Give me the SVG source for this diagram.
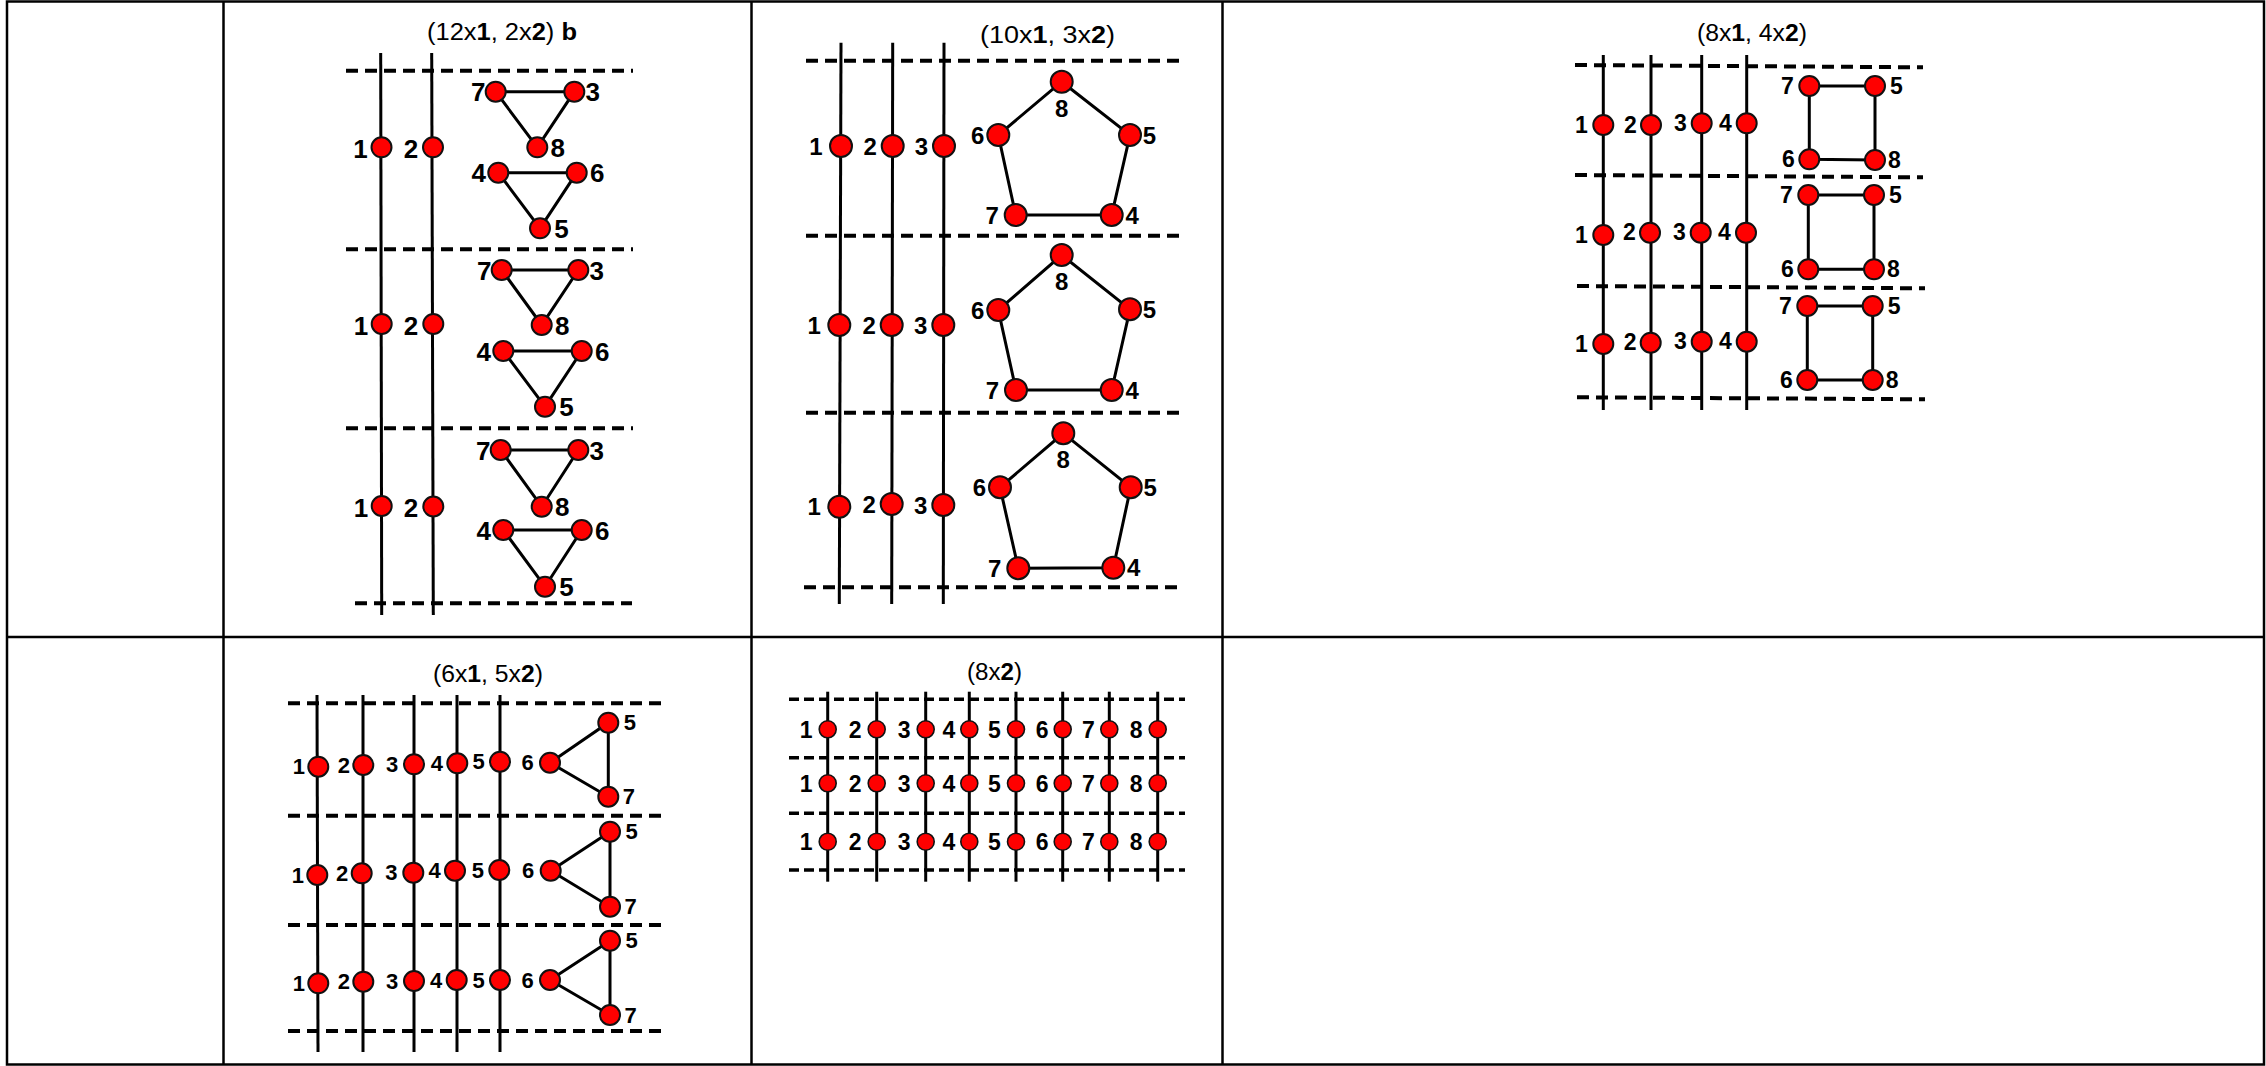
<svg xmlns="http://www.w3.org/2000/svg" width="2266" height="1066" viewBox="0 0 2266 1066">
<style>
.grid{stroke:#000;stroke-width:2.5;fill:none}
.vl{stroke:#000;stroke-width:3;fill:none}
.dl{stroke:#000;stroke-width:4;stroke-dasharray:12 7;fill:none}
.dl5{stroke:#000;stroke-width:3.6;stroke-dasharray:10 5;fill:none}
.e{stroke:#000;stroke-width:3;fill:none}
circle{fill:#f00;stroke:#111;stroke-width:2}
.s circle{stroke-width:1.6}
text{font-family:"Liberation Sans",Arial,Helvetica,sans-serif;fill:#000}
.lb{font-weight:bold;text-anchor:middle}
.l1{font-size:26px}.l2{font-size:24px}.l3{font-size:23px}.l4{font-size:22px}.l5{font-size:23px}
.tt{font-size:23px}
.b{font-weight:bold}
</style>
<rect width="2266" height="1066" fill="#fff"/>
<g id="table">
<rect class="grid" x="7" y="1.5" width="2257" height="1063"/>
<line class="grid" x1="223.5" y1="1.5" x2="223.5" y2="1064.5"/>
<line class="grid" x1="751.5" y1="1.5" x2="751.5" y2="1064.5"/>
<line class="grid" x1="1222.5" y1="1.5" x2="1222.5" y2="1064.5"/>
<line class="grid" x1="7" y1="637" x2="2264" y2="637"/>
</g>
<g id="titles">
<text class="tt" x="427" y="40" textLength="150" lengthAdjust="spacingAndGlyphs">(12x<tspan class="b">1</tspan>, 2x<tspan class="b">2</tspan>) <tspan class="b">b</tspan></text>
<text class="tt" x="980" y="43" textLength="135" lengthAdjust="spacingAndGlyphs">(10x<tspan class="b">1</tspan>, 3x<tspan class="b">2</tspan>)</text>
<text class="tt" x="1697" y="41" textLength="110" lengthAdjust="spacingAndGlyphs">(8x<tspan class="b">1</tspan>, 4x<tspan class="b">2</tspan>)</text>
<text class="tt" x="433" y="682" textLength="110" lengthAdjust="spacingAndGlyphs">(6x<tspan class="b">1</tspan>, 5x<tspan class="b">2</tspan>)</text>
<text class="tt" x="967" y="680" textLength="55" lengthAdjust="spacingAndGlyphs">(8x<tspan class="b">2</tspan>)</text>
</g>
<g id="connectors">
<line class="vl" x1="380.7" y1="53" x2="381.7" y2="615"/>
<line class="vl" x1="431.7" y1="53" x2="433.3" y2="615"/>
<line class="dl" x1="346" y1="70.7" x2="633" y2="70.7"/>
<line class="dl" x1="346" y1="249.3" x2="633" y2="249.3"/>
<line class="dl" x1="346" y1="428.3" x2="633" y2="428.3"/>
<line class="dl" x1="355" y1="603.3" x2="632" y2="603.3"/>
<polygon class="e" points="495.7,91.7 574.3,91.7 537.3,147.3"/>
<polygon class="e" points="498.3,172.7 576.7,172.7 540,228.3"/>
<polygon class="e" points="501.7,270 578.3,270 541.7,325"/>
<polygon class="e" points="503.3,351 581.7,351 545,406.7"/>
<polygon class="e" points="500.7,450 578.3,450 541.7,506.7"/>
<polygon class="e" points="503.3,530 581.7,530 545,586.7"/>
<line class="vl" x1="841" y1="42.7" x2="839.3" y2="604"/>
<line class="vl" x1="892.7" y1="42.7" x2="891.7" y2="604"/>
<line class="vl" x1="944" y1="42.7" x2="943.3" y2="604"/>
<line class="dl" x1="806" y1="60.7" x2="1182" y2="60.7"/>
<line class="dl" x1="806" y1="235.7" x2="1182" y2="235.7"/>
<line class="dl" x1="806" y1="412.7" x2="1182" y2="412.7"/>
<line class="dl" x1="804" y1="587.3" x2="1182" y2="587.3"/>
<polygon class="e" points="1061.7,81.7 1130,135 1111.7,215 1015.7,215 998.3,135"/>
<polygon class="e" points="1061.7,255 1130,309.3 1111.7,390 1016,390 998.3,310"/>
<polygon class="e" points="1063.3,433.3 1130.7,487.3 1113.3,567.7 1018.3,568.3 1000,487.3"/>
<line class="vl" x1="1603.3" y1="55" x2="1603.3" y2="410"/>
<line class="vl" x1="1651" y1="55" x2="1651" y2="410"/>
<line class="vl" x1="1701.7" y1="55" x2="1701.7" y2="410"/>
<line class="vl" x1="1746.7" y1="55" x2="1746.7" y2="410"/>
<line class="dl" x1="1575" y1="65" x2="1923" y2="67.3"/>
<line class="dl" x1="1575" y1="175" x2="1923" y2="177.3"/>
<line class="dl" x1="1577" y1="286" x2="1925" y2="288.3"/>
<line class="dl" x1="1577" y1="397.3" x2="1925" y2="399.3"/>
<polygon class="e" points="1809.3,86 1875,86 1875,160 1809.3,159.3"/>
<polygon class="e" points="1808.3,195 1874,195 1874,269.3 1808.3,269.3"/>
<polygon class="e" points="1807.3,306 1872.7,306 1872.7,380 1807.3,380"/>
<line class="vl" x1="317" y1="695" x2="318" y2="1052"/>
<line class="vl" x1="363" y1="695" x2="363" y2="1052"/>
<line class="vl" x1="414" y1="695" x2="414" y2="1052"/>
<line class="vl" x1="457" y1="695" x2="457" y2="1052"/>
<line class="vl" x1="500" y1="695" x2="500" y2="1052"/>
<line class="dl" x1="288" y1="703.3" x2="665" y2="703.3"/>
<line class="dl" x1="288" y1="815.7" x2="665" y2="815.7"/>
<line class="dl" x1="288" y1="925" x2="665" y2="925"/>
<line class="dl" x1="288" y1="1031" x2="665" y2="1031"/>
<polygon class="e" points="550,762.7 608.3,722.7 608.3,796.7"/>
<polygon class="e" points="550.7,870.7 610,831.7 610,906.7"/>
<polygon class="e" points="550,980 610,940.7 610,1015"/>
<line class="vl" x1="827.7" y1="691.7" x2="827.7" y2="881.7"/>
<line class="vl" x1="876.7" y1="691.7" x2="876.7" y2="881.7"/>
<line class="vl" x1="925.7" y1="691.7" x2="925.7" y2="881.7"/>
<line class="vl" x1="969.3" y1="691.7" x2="969.3" y2="881.7"/>
<line class="vl" x1="1016" y1="691.7" x2="1016" y2="881.7"/>
<line class="vl" x1="1062.7" y1="691.7" x2="1062.7" y2="881.7"/>
<line class="vl" x1="1109.3" y1="691.7" x2="1109.3" y2="881.7"/>
<line class="vl" x1="1157.7" y1="691.7" x2="1157.7" y2="881.7"/>
<line class="dl5" x1="789" y1="699.3" x2="1185" y2="699.3"/>
<line class="dl5" x1="789" y1="757.7" x2="1185" y2="757.7"/>
<line class="dl5" x1="789" y1="813.3" x2="1185" y2="813.3"/>
<line class="dl5" x1="789" y1="870" x2="1185" y2="870"/>
</g>
<g id="panel1-nodes">
<g id="p1-b1-n1"><circle cx="381.5" cy="147.3" r="10"/><text class="lb l1" x="360.5" y="157.5">1</text></g>
<g id="p1-b1-n2"><circle cx="433" cy="147.3" r="10"/><text class="lb l1" x="411" y="157.5">2</text></g>
<g id="p1-b2-n1"><circle cx="381.7" cy="324" r="10"/><text class="lb l1" x="361" y="334.5">1</text></g>
<g id="p1-b2-n2"><circle cx="433.3" cy="324" r="10"/><text class="lb l1" x="411" y="334.5">2</text></g>
<g id="p1-b3-n1"><circle cx="381.7" cy="506" r="10"/><text class="lb l1" x="361" y="516.5">1</text></g>
<g id="p1-b3-n2"><circle cx="433.3" cy="506.5" r="10"/><text class="lb l1" x="411" y="516.5">2</text></g>
<g id="p1-b1-n7"><circle cx="495.7" cy="91.7" r="10"/><text class="lb l1" x="478.2" y="101.2">7</text></g>
<g id="p1-b1-n3"><circle cx="574.3" cy="91.7" r="10"/><text class="lb l1" x="592.8" y="101.2">3</text></g>
<g id="p1-b1-n8"><circle cx="537.3" cy="147.3" r="10"/><text class="lb l1" x="557.8" y="156.8">8</text></g>
<g id="p1-b1-n4"><circle cx="498.3" cy="172.7" r="10"/><text class="lb l1" x="478.8" y="182.2">4</text></g>
<g id="p1-b1-n6"><circle cx="576.7" cy="172.7" r="10"/><text class="lb l1" x="597.2" y="182.2">6</text></g>
<g id="p1-b1-n5"><circle cx="540" cy="228.3" r="10"/><text class="lb l1" x="561.5" y="237.8">5</text></g>
<g id="p1-b2-n7"><circle cx="501.7" cy="270" r="10"/><text class="lb l1" x="484.2" y="279.5">7</text></g>
<g id="p1-b2-n3"><circle cx="578.3" cy="270" r="10"/><text class="lb l1" x="596.8" y="279.5">3</text></g>
<g id="p1-b2-n8"><circle cx="541.7" cy="325" r="10"/><text class="lb l1" x="562.2" y="334.5">8</text></g>
<g id="p1-b2-n4"><circle cx="503.3" cy="351" r="10"/><text class="lb l1" x="483.8" y="360.5">4</text></g>
<g id="p1-b2-n6"><circle cx="581.7" cy="351" r="10"/><text class="lb l1" x="602.2" y="360.5">6</text></g>
<g id="p1-b2-n5"><circle cx="545" cy="406.7" r="10"/><text class="lb l1" x="566.5" y="416.2">5</text></g>
<g id="p1-b3-n7"><circle cx="500.7" cy="450" r="10"/><text class="lb l1" x="483.2" y="459.5">7</text></g>
<g id="p1-b3-n3"><circle cx="578.3" cy="450" r="10"/><text class="lb l1" x="596.8" y="459.5">3</text></g>
<g id="p1-b3-n8"><circle cx="541.7" cy="506.7" r="10"/><text class="lb l1" x="562.2" y="516.2">8</text></g>
<g id="p1-b3-n4"><circle cx="503.3" cy="530" r="10"/><text class="lb l1" x="483.8" y="539.5">4</text></g>
<g id="p1-b3-n6"><circle cx="581.7" cy="530" r="10"/><text class="lb l1" x="602.2" y="539.5">6</text></g>
<g id="p1-b3-n5"><circle cx="545" cy="586.7" r="10"/><text class="lb l1" x="566.5" y="596.2">5</text></g>
</g>
<g id="panel2-nodes">
<g id="p2-b1-n1"><circle cx="841" cy="146" r="11"/><text class="lb l2" x="816" y="154.7">1</text></g>
<g id="p2-b1-n2"><circle cx="892.7" cy="146" r="11"/><text class="lb l2" x="870.2" y="154.7">2</text></g>
<g id="p2-b1-n3"><circle cx="944" cy="146" r="11"/><text class="lb l2" x="921.5" y="154.7">3</text></g>
<g id="p2-b2-n1"><circle cx="839.3" cy="325" r="11"/><text class="lb l2" x="814.3" y="333.7">1</text></g>
<g id="p2-b2-n2"><circle cx="891.7" cy="325" r="11"/><text class="lb l2" x="869.2" y="333.7">2</text></g>
<g id="p2-b2-n3"><circle cx="943.3" cy="325" r="11"/><text class="lb l2" x="920.8" y="333.7">3</text></g>
<g id="p2-b3-n1"><circle cx="839.3" cy="506.7" r="11"/><text class="lb l2" x="814.3" y="515.4">1</text></g>
<g id="p2-b3-n2"><circle cx="891.7" cy="504" r="11"/><text class="lb l2" x="869.2" y="512.7">2</text></g>
<g id="p2-b3-n3"><circle cx="943.3" cy="505" r="11"/><text class="lb l2" x="920.8" y="513.7">3</text></g>
<g id="p2-b1-n8"><circle cx="1061.7" cy="81.7" r="11"/><text class="lb l2" x="1061.7" y="116.7">8</text></g>
<g id="p2-b1-n5"><circle cx="1130" cy="135" r="11"/><text class="lb l2" x="1149.5" y="143.7">5</text></g>
<g id="p2-b1-n4"><circle cx="1111.7" cy="215" r="11"/><text class="lb l2" x="1132.2" y="223.7">4</text></g>
<g id="p2-b1-n7"><circle cx="1015.7" cy="215" r="11"/><text class="lb l2" x="992.2" y="223.7">7</text></g>
<g id="p2-b1-n6"><circle cx="998.3" cy="135" r="11"/><text class="lb l2" x="977.8" y="143.7">6</text></g>
<g id="p2-b2-n8"><circle cx="1061.7" cy="255" r="11"/><text class="lb l2" x="1061.7" y="290.2">8</text></g>
<g id="p2-b2-n5"><circle cx="1130" cy="309.3" r="11"/><text class="lb l2" x="1149.5" y="318">5</text></g>
<g id="p2-b2-n4"><circle cx="1111.7" cy="390" r="11"/><text class="lb l2" x="1132.2" y="398.7">4</text></g>
<g id="p2-b2-n7"><circle cx="1016" cy="390" r="11"/><text class="lb l2" x="992.5" y="398.7">7</text></g>
<g id="p2-b2-n6"><circle cx="998.3" cy="310" r="11"/><text class="lb l2" x="977.8" y="318.7">6</text></g>
<g id="p2-b3-n8"><circle cx="1063.3" cy="433.3" r="11"/><text class="lb l2" x="1063.3" y="468.2">8</text></g>
<g id="p2-b3-n5"><circle cx="1130.7" cy="487.3" r="11"/><text class="lb l2" x="1150.2" y="496">5</text></g>
<g id="p2-b3-n4"><circle cx="1113.3" cy="567.7" r="11"/><text class="lb l2" x="1133.8" y="576.4">4</text></g>
<g id="p2-b3-n7"><circle cx="1018.3" cy="568.3" r="11"/><text class="lb l2" x="994.8" y="577">7</text></g>
<g id="p2-b3-n6"><circle cx="1000" cy="487.3" r="11"/><text class="lb l2" x="979.5" y="496">6</text></g>
</g>
<g id="panel3-nodes">
<g id="p3-b1-n1"><circle cx="1603.3" cy="125" r="10"/><text class="lb l3" x="1581.5" y="132.7">1</text></g>
<g id="p3-b1-n2"><circle cx="1651" cy="125" r="10"/><text class="lb l3" x="1630.5" y="132.7">2</text></g>
<g id="p3-b1-n3"><circle cx="1701.7" cy="123.3" r="10"/><text class="lb l3" x="1680.5" y="131">3</text></g>
<g id="p3-b1-n4"><circle cx="1746.7" cy="123.3" r="10"/><text class="lb l3" x="1725.5" y="131">4</text></g>
<g id="p3-b2-n1"><circle cx="1603.3" cy="235" r="10"/><text class="lb l3" x="1581.5" y="242.7">1</text></g>
<g id="p3-b2-n2"><circle cx="1650" cy="232.7" r="10"/><text class="lb l3" x="1629.5" y="240.4">2</text></g>
<g id="p3-b2-n3"><circle cx="1700.7" cy="232.7" r="10"/><text class="lb l3" x="1679.5" y="240.4">3</text></g>
<g id="p3-b2-n4"><circle cx="1746" cy="232.7" r="10"/><text class="lb l3" x="1724.5" y="240.4">4</text></g>
<g id="p3-b3-n1"><circle cx="1603.3" cy="344" r="10"/><text class="lb l3" x="1581.5" y="351.7">1</text></g>
<g id="p3-b3-n2"><circle cx="1650.7" cy="342.7" r="10"/><text class="lb l3" x="1630.2" y="350.4">2</text></g>
<g id="p3-b3-n3"><circle cx="1701.7" cy="341.7" r="10"/><text class="lb l3" x="1680.5" y="349.4">3</text></g>
<g id="p3-b3-n4"><circle cx="1746.7" cy="341.7" r="10"/><text class="lb l3" x="1725.5" y="349.4">4</text></g>
<g id="p3-b1-n7"><circle cx="1809.3" cy="86" r="10"/><text class="lb l3" x="1787.5" y="93.7">7</text></g>
<g id="p3-b1-n5"><circle cx="1875" cy="86" r="10"/><text class="lb l3" x="1896.5" y="93.7">5</text></g>
<g id="p3-b1-n6"><circle cx="1809.3" cy="159.3" r="10"/><text class="lb l3" x="1788.5" y="167">6</text></g>
<g id="p3-b1-n8"><circle cx="1875" cy="160" r="10"/><text class="lb l3" x="1894.5" y="167.7">8</text></g>
<g id="p3-b2-n7"><circle cx="1808.3" cy="195" r="10"/><text class="lb l3" x="1786.5" y="202.7">7</text></g>
<g id="p3-b2-n5"><circle cx="1874" cy="195" r="10"/><text class="lb l3" x="1895.5" y="202.7">5</text></g>
<g id="p3-b2-n6"><circle cx="1808.3" cy="269.3" r="10"/><text class="lb l3" x="1787.5" y="277">6</text></g>
<g id="p3-b2-n8"><circle cx="1874" cy="269.3" r="10"/><text class="lb l3" x="1893.5" y="277">8</text></g>
<g id="p3-b3-n7"><circle cx="1807.3" cy="306" r="10"/><text class="lb l3" x="1785.5" y="313.7">7</text></g>
<g id="p3-b3-n5"><circle cx="1872.7" cy="306" r="10"/><text class="lb l3" x="1894.2" y="313.7">5</text></g>
<g id="p3-b3-n6"><circle cx="1807.3" cy="380" r="10"/><text class="lb l3" x="1786.5" y="387.7">6</text></g>
<g id="p3-b3-n8"><circle cx="1872.7" cy="380" r="10"/><text class="lb l3" x="1892.2" y="387.7">8</text></g>
</g>
<g id="panel4-nodes">
<g id="p4-b1-n1"><circle cx="318.3" cy="766.7" r="10"/><text class="lb l4" x="298.8" y="774.4">1</text></g>
<g id="p4-b1-n2"><circle cx="363.3" cy="765" r="10"/><text class="lb l4" x="343.8" y="772.7">2</text></g>
<g id="p4-b1-n3"><circle cx="414" cy="764.3" r="10"/><text class="lb l4" x="392" y="772">3</text></g>
<g id="p4-b1-n4"><circle cx="457.3" cy="763.3" r="10"/><text class="lb l4" x="436.8" y="771">4</text></g>
<g id="p4-b1-n5"><circle cx="500" cy="761.7" r="10"/><text class="lb l4" x="478.5" y="769.4">5</text></g>
<g id="p4-b2-n1"><circle cx="317.3" cy="875" r="10"/><text class="lb l4" x="297.8" y="882.7">1</text></g>
<g id="p4-b2-n2"><circle cx="361.7" cy="873.3" r="10"/><text class="lb l4" x="342.2" y="881">2</text></g>
<g id="p4-b2-n3"><circle cx="413.3" cy="872.7" r="10"/><text class="lb l4" x="391.3" y="880.4">3</text></g>
<g id="p4-b2-n4"><circle cx="455" cy="870.7" r="10"/><text class="lb l4" x="434.5" y="878.4">4</text></g>
<g id="p4-b2-n5"><circle cx="499.3" cy="870" r="10"/><text class="lb l4" x="477.8" y="877.7">5</text></g>
<g id="p4-b3-n1"><circle cx="318.3" cy="983.3" r="10"/><text class="lb l4" x="298.8" y="991">1</text></g>
<g id="p4-b3-n2"><circle cx="363.3" cy="981.7" r="10"/><text class="lb l4" x="343.8" y="989.4">2</text></g>
<g id="p4-b3-n3"><circle cx="414" cy="981" r="10"/><text class="lb l4" x="392" y="988.7">3</text></g>
<g id="p4-b3-n4"><circle cx="456.7" cy="980" r="10"/><text class="lb l4" x="436.2" y="987.7">4</text></g>
<g id="p4-b3-n5"><circle cx="500" cy="980" r="10"/><text class="lb l4" x="478.5" y="987.7">5</text></g>
<g id="p4-b1-n6"><circle cx="550" cy="762.7" r="10"/><text class="lb l4" x="527.5" y="770.4">6</text></g>
<g id="p4-b1-t5"><circle cx="608.3" cy="722.7" r="10"/><text class="lb l4" x="629.8" y="730.4">5</text></g>
<g id="p4-b1-n7"><circle cx="608.3" cy="796.7" r="10"/><text class="lb l4" x="628.8" y="804.4">7</text></g>
<g id="p4-b2-n6"><circle cx="550.7" cy="870.7" r="10"/><text class="lb l4" x="528.2" y="878.4">6</text></g>
<g id="p4-b2-t5"><circle cx="610" cy="831.7" r="10"/><text class="lb l4" x="631.5" y="839.4">5</text></g>
<g id="p4-b2-n7"><circle cx="610" cy="906.7" r="10"/><text class="lb l4" x="630.5" y="914.4">7</text></g>
<g id="p4-b3-n6"><circle cx="550" cy="980" r="10"/><text class="lb l4" x="527.5" y="987.7">6</text></g>
<g id="p4-b3-t5"><circle cx="610" cy="940.7" r="10"/><text class="lb l4" x="631.5" y="948.4">5</text></g>
<g id="p4-b3-n7"><circle cx="610" cy="1015" r="10"/><text class="lb l4" x="630.5" y="1022.7">7</text></g>
</g>
<g id="panel5-nodes" class="s">
<g id="p5-r1-n1"><circle cx="827.7" cy="729.3" r="8.5"/><text class="lb l5" x="806.2" y="737.5">1</text></g>
<g id="p5-r1-n2"><circle cx="876.7" cy="729.3" r="8.5"/><text class="lb l5" x="855.2" y="737.5">2</text></g>
<g id="p5-r1-n3"><circle cx="925.7" cy="729.3" r="8.5"/><text class="lb l5" x="904.2" y="737.5">3</text></g>
<g id="p5-r1-n4"><circle cx="969.3" cy="729.3" r="8.5"/><text class="lb l5" x="948.8" y="737.5">4</text></g>
<g id="p5-r1-n5"><circle cx="1016" cy="729.3" r="8.5"/><text class="lb l5" x="994.5" y="737.5">5</text></g>
<g id="p5-r1-n6"><circle cx="1062.7" cy="729.3" r="8.5"/><text class="lb l5" x="1042.2" y="737.5">6</text></g>
<g id="p5-r1-n7"><circle cx="1109.3" cy="729.3" r="8.5"/><text class="lb l5" x="1088.3" y="737.5">7</text></g>
<g id="p5-r1-n8"><circle cx="1157.7" cy="729.3" r="8.5"/><text class="lb l5" x="1136.2" y="737.5">8</text></g>
<g id="p5-r2-n1"><circle cx="827.7" cy="783.3" r="8.5"/><text class="lb l5" x="806.2" y="791.5">1</text></g>
<g id="p5-r2-n2"><circle cx="876.7" cy="783.3" r="8.5"/><text class="lb l5" x="855.2" y="791.5">2</text></g>
<g id="p5-r2-n3"><circle cx="925.7" cy="783.3" r="8.5"/><text class="lb l5" x="904.2" y="791.5">3</text></g>
<g id="p5-r2-n4"><circle cx="969.3" cy="783.3" r="8.5"/><text class="lb l5" x="948.8" y="791.5">4</text></g>
<g id="p5-r2-n5"><circle cx="1016" cy="783.3" r="8.5"/><text class="lb l5" x="994.5" y="791.5">5</text></g>
<g id="p5-r2-n6"><circle cx="1062.7" cy="783.3" r="8.5"/><text class="lb l5" x="1042.2" y="791.5">6</text></g>
<g id="p5-r2-n7"><circle cx="1109.3" cy="783.3" r="8.5"/><text class="lb l5" x="1088.3" y="791.5">7</text></g>
<g id="p5-r2-n8"><circle cx="1157.7" cy="783.3" r="8.5"/><text class="lb l5" x="1136.2" y="791.5">8</text></g>
<g id="p5-r3-n1"><circle cx="827.7" cy="841.7" r="8.5"/><text class="lb l5" x="806.2" y="849.9">1</text></g>
<g id="p5-r3-n2"><circle cx="876.7" cy="841.7" r="8.5"/><text class="lb l5" x="855.2" y="849.9">2</text></g>
<g id="p5-r3-n3"><circle cx="925.7" cy="841.7" r="8.5"/><text class="lb l5" x="904.2" y="849.9">3</text></g>
<g id="p5-r3-n4"><circle cx="969.3" cy="841.7" r="8.5"/><text class="lb l5" x="948.8" y="849.9">4</text></g>
<g id="p5-r3-n5"><circle cx="1016" cy="841.7" r="8.5"/><text class="lb l5" x="994.5" y="849.9">5</text></g>
<g id="p5-r3-n6"><circle cx="1062.7" cy="841.7" r="8.5"/><text class="lb l5" x="1042.2" y="849.9">6</text></g>
<g id="p5-r3-n7"><circle cx="1109.3" cy="841.7" r="8.5"/><text class="lb l5" x="1088.3" y="849.9">7</text></g>
<g id="p5-r3-n8"><circle cx="1157.7" cy="841.7" r="8.5"/><text class="lb l5" x="1136.2" y="849.9">8</text></g>
</g>
</svg>
